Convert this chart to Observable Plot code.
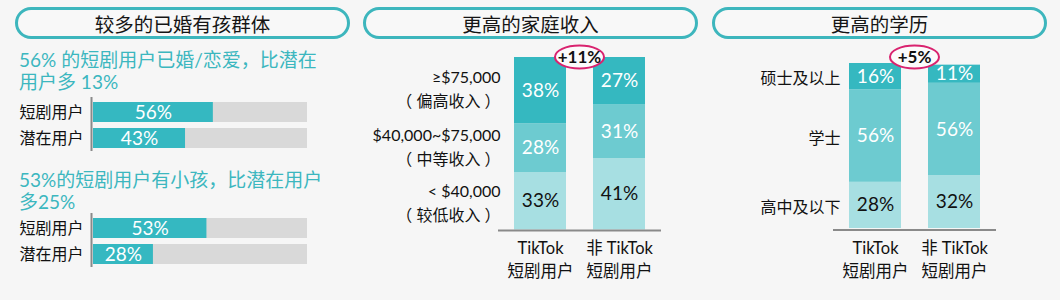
<!DOCTYPE html>
<html><head><meta charset="utf-8">
<script src="https://cdn.jsdelivr.net/npm/d3@7"></script>
<script src="https://cdn.jsdelivr.net/npm/@observablehq/plot@0.6"></script>
<style>
html,body{margin:0;padding:0;background:#f6f6f6;}
#root{position:relative;width:1060px;height:300px;background:#f6f6f6;overflow:hidden;font-family:Lato,"Noto Sans CJK SC",sans-serif;}
.pill{position:absolute;top:7px;height:32px;box-sizing:border-box;border:3px solid #3db6bd;border-radius:16px;display:flex;align-items:center;justify-content:center;font-size:19.5px;color:#151515;font-family:"Noto Sans CJK SC",sans-serif;background:#f8f8f8;}
.sub{position:absolute;left:19px;color:#3cb7bf;font-size:19px;line-height:22px;white-space:nowrap;}
</style></head>
<body><div id="root"></div>
<script>
// ---- data ----
const titles = ["较多的已婚有孩群体", "更高的家庭收入", "更高的学历"];
const subtitles = ["56% 的短剧用户已婚/恋爱，比潜在<br>用户多 13%", "53%的短剧用户有小孩，比潜在用户<br>多25%"];
const userGroups = ["短剧用户", "潜在用户"];
const marriedValues = [56, 43];
const kidsValues = [53, 28];
const compareGroups = ["TikTok\n短剧用户", "非 TikTok\n短剧用户"];
const incomeLevels = ["< $40,000\n（ 较低收入 ）", "$40,000~$75,000\n（ 中等收入 ）", "≥$75,000\n（ 偏高收入 ）"];
const incomeTikTok = [33, 28, 38];
const incomeNonTikTok = [41, 31, 27];
const eduLevels = ["高中及以下", "学士", "硕士及以上"];
const eduTikTok = [28, 56, 16];
const eduNonTikTok = [32, 56, 11];
const diffLabels = ["+11%", "+5%"];
const segColors = ["#a7dfe2", "#6dcbd0", "#35b8c0"];

const FONT = 'Lato, "Noto Sans CJK SC", sans-serif';
const root = document.getElementById("root");
function place(node, left, top) {
  node.style.position = "absolute";
  node.style.left = left + "px";
  node.style.top = top + "px";
  root.appendChild(node);
}
function div(cls, html, css) {
  const d = document.createElement("div");
  d.className = cls; d.innerHTML = html;
  Object.assign(d.style, css);
  root.appendChild(d);
  return d;
}

// titles
div("pill", titles[0], {left: "15px", width: "335px"});
div("pill", titles[1], {left: "363px", width: "335px"});
div("pill", titles[2], {left: "712px", width: "335px"});
// subtitles
div("sub", subtitles[0], {top: "49px"});
div("sub", subtitles[1], {top: "169px"});

// ---- panel 1 horizontal bars ----
function hbar(values) {
  const data = userGroups.map((g, i) => ({g, v: values[i]}));
  return Plot.plot({
    width: 320, height: 56, marginTop: 2, marginBottom: 2, marginLeft: 93, marginRight: 13,
    style: {background: "transparent", fontFamily: FONT, fontSize: "16px", color: "#111", overflow: "visible"},
    x: {domain: [0, 100], axis: null},
    y: {domain: userGroups, padding: 0, tickSize: 0, tickPadding: 10, label: null},
    marks: [
      Plot.barX(data, {y: "g", x: 100, fill: "#d9d9d9", insetTop: 3, insetBottom: 3}),
      Plot.barX(data, {y: "g", x: "v", fill: "#35b8c1", insetTop: 3, insetBottom: 3}),
      Plot.text(data, {y: "g", x: d => d.v / 2, text: d => d.v + "%", fill: "white", fontSize: 19}),
      Plot.ruleX([0], {stroke: "#8a8a8a", strokeWidth: 2, dx: -2, insetTop: -2})
    ]
  });
}
place(hbar(marriedValues), 0, 97);
place(hbar(kidsValues), 0, 213);

// ---- stacked panels ----
function diffMark(label) {
  return (index, scales, values, dims) => {
    const cx = (dims.marginLeft + dims.width - dims.marginRight) / 2;
    const cy = 12;
    const g = d3.create("svg:g");
    g.append("ellipse").attr("cx", cx).attr("cy", cy).attr("rx", 24.5).attr("ry", 11.5)
      .attr("fill", "#fbfbfb").attr("stroke", "#d9236f").attr("stroke-width", 2);
    g.append("text").attr("x", cx).attr("y", cy).attr("dy", "0.36em").attr("text-anchor", "middle")
      .attr("font-weight", "bold").attr("font-size", 17).attr("fill", "#111").attr("font-family", FONT).text(label);
    return g.node();
  };
}

function stackPanel(o) {
  const data = [];
  compareGroups.forEach((g, gi) => o.levels.forEach((l, li) => data.push({g, l, li, v: o.series[gi][li]})));
  const first = compareGroups[0];
  return Plot.plot({
    width: o.width, height: 250, marginTop: o.marginTop, marginBottom: o.marginBottom,
    marginLeft: o.marginLeft, marginRight: o.marginRight,
    style: {background: "transparent", fontFamily: FONT, fontSize: "16px", color: "#111", overflow: "visible"},
    x: {domain: compareGroups, paddingInner: 0.34, paddingOuter: 0.2},
    y: {domain: [0, o.ymax], axis: null},
    color: {domain: o.levels, range: segColors},
    marks: [
      Plot.barY(data, {x: "g", y: "v", fill: "l"}),
      Plot.text(data, Plot.stackY({x: "g", y: "v", text: d => d.li === 0 ? d.v + "%" : null, fill: "#111", fontSize: 19})),
      Plot.text(data, Plot.stackY({x: "g", y: "v", text: d => d.li > 0 ? d.v + "%" : null, fill: "white", fontSize: 19})),
      Plot.text(data, Plot.stackY({x: "g", y: "v", text: d => d.g === first && d.li === 0 ? d.l : null,
        textAnchor: "end", dx: o.labelDx, fontSize: 16, lineHeight: 1.5, fill: "#111"})),
      Plot.text(data, Plot.stackY({x: "g", y: "v", text: d => d.g === first && d.li > 0 ? d.l : null,
        textAnchor: "end", dx: o.labelDx, dy: o.labelDy, fontSize: 16, lineHeight: 1.5, fill: "#111"})),
      Plot.ruleY([0], {stroke: "#8a8a8a", strokeWidth: 2, dy: o.ruleDy}),
      Plot.axisX({tickSize: 0, tickPadding: o.tickPadding, fontSize: 16.5, lineHeight: 1.35, label: null}),
      diffMark(o.diff)
    ]
  });
}

place(stackPanel({
  levels: incomeLevels, series: [incomeTikTok, incomeNonTikTok], ymax: 99,
  width: 345, marginTop: 12, marginBottom: 65.5, marginLeft: 143, marginRight: 39,
  labelDx: -40, labelDy: -3, tickPadding: 8.5, ruleDy: 0.5, diff: diffLabels[0]
}), 355, 45);

place(stackPanel({
  levels: eduLevels, series: [eduTikTok, eduNonTikTok], ymax: 100,
  width: 350, marginTop: 18, marginBottom: 67, marginLeft: 128, marginRight: 59,
  labelDx: -35, labelDy: 0, tickPadding: 10, ruleDy: 1.5, diff: diffLabels[1]
}), 705, 45);
</script>
</body></html>
